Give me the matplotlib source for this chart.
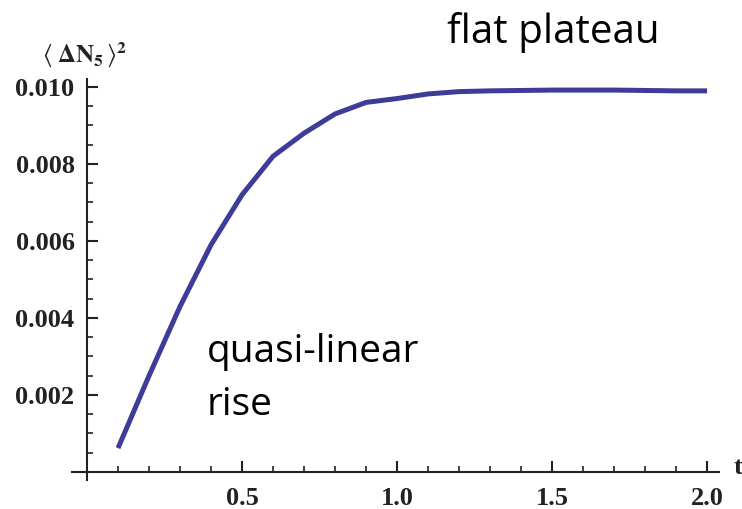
import matplotlib
matplotlib.use("Agg")
import matplotlib.pyplot as plt
from matplotlib.ticker import MultipleLocator, FixedLocator

# time points and variance values of the curve
t = [0.1, 0.2, 0.3, 0.4, 0.5, 0.6, 0.7, 0.8, 0.9, 1.0,
     1.1, 1.2, 1.3, 1.4, 1.5, 1.6, 1.7, 1.8, 1.9, 2.0]
var_n5 = [0.00062, 0.0025, 0.0043, 0.0059, 0.0072, 0.0082, 0.0088, 0.0093, 0.0096, 0.0097,
          0.00982, 0.00988, 0.0099, 0.00991, 0.00992, 0.00992, 0.00992, 0.00991, 0.0099, 0.0099]

x_ticks = [0.5, 1.0, 1.5, 2.0]
x_tick_labels = ["0.5", "1.0", "1.5", "2.0"]
y_ticks = [0.002, 0.004, 0.006, 0.008, 0.010]
y_tick_labels = ["0.002", "0.004", "0.006", "0.008", "0.010"]

plt.rcParams['mathtext.fontset'] = 'stix'

fig = plt.figure(figsize=(7.42, 5.09), dpi=100)
ax = fig.add_axes([0.0964, 0.0576, 0.8774, 0.7866])

ax.plot(t, var_n5, color='#3d3d99', linewidth=3.6, solid_capstyle='butt')

ax.set_xlim(-0.05, 2.05)
ax.set_ylim(-0.0002, 0.0102)

# axes crossing at the origin, ticks pointing inward
for side in ['top', 'right']:
    ax.spines[side].set_visible(False)
ax.spines['left'].set_position(('data', 0))
ax.spines['bottom'].set_position(('data', 0))
ax.spines['bottom'].set_bounds(-0.05, 2.04)
for side in ['left', 'bottom']:
    ax.spines[side].set_linewidth(1.5)
    ax.spines[side].set_color('#222222')

ax.xaxis.set_major_locator(FixedLocator(x_ticks))
ax.set_xticklabels(x_tick_labels)
ax.xaxis.set_minor_locator(MultipleLocator(0.1))
ax.yaxis.set_major_locator(FixedLocator(y_ticks))
ax.set_yticklabels(y_tick_labels)
ax.yaxis.set_minor_locator(MultipleLocator(0.0005))

ax.tick_params(which='major', direction='in', length=8, width=1.5, color='#222222')
ax.tick_params(which='minor', direction='in', length=4, width=1.2, color='#222222')
ax.tick_params(axis='x', which='major', pad=11)
ax.tick_params(axis='y', which='major', pad=9)
for lab in ax.get_xticklabels() + ax.get_yticklabels():
    lab.set_fontfamily('Liberation Serif')
    lab.set_fontweight('bold')
    lab.set_fontsize(19)
    lab.set_color('#222222')

# axis names
fig.text(85 / 742, 1 - 55 / 509, r"$\langle\;\mathbf{\Delta N}_{\mathbf{5}}\,\rangle^{\mathbf{2}}$",
         fontsize=18, ha='center', va='center', color='#222222')
fig.text(738 / 742, 1 - 468 / 509, "t", fontsize=19, fontfamily='Liberation Serif',
         fontweight='bold', ha='center', va='center', color='#222222')

# annotations
ax.text(1.16, 0.01114, "flat plateau", fontsize=29, fontfamily='Open Sans',
        ha='left', va='baseline', clip_on=False)
ax.text(0.385, 0.00286, "quasi-linear", fontsize=28, fontfamily='Open Sans',
        ha='left', va='baseline')
ax.text(0.385, 0.00148, "rise", fontsize=28, fontfamily='Open Sans',
        ha='left', va='baseline')

fig.savefig("out.png", dpi=100)
